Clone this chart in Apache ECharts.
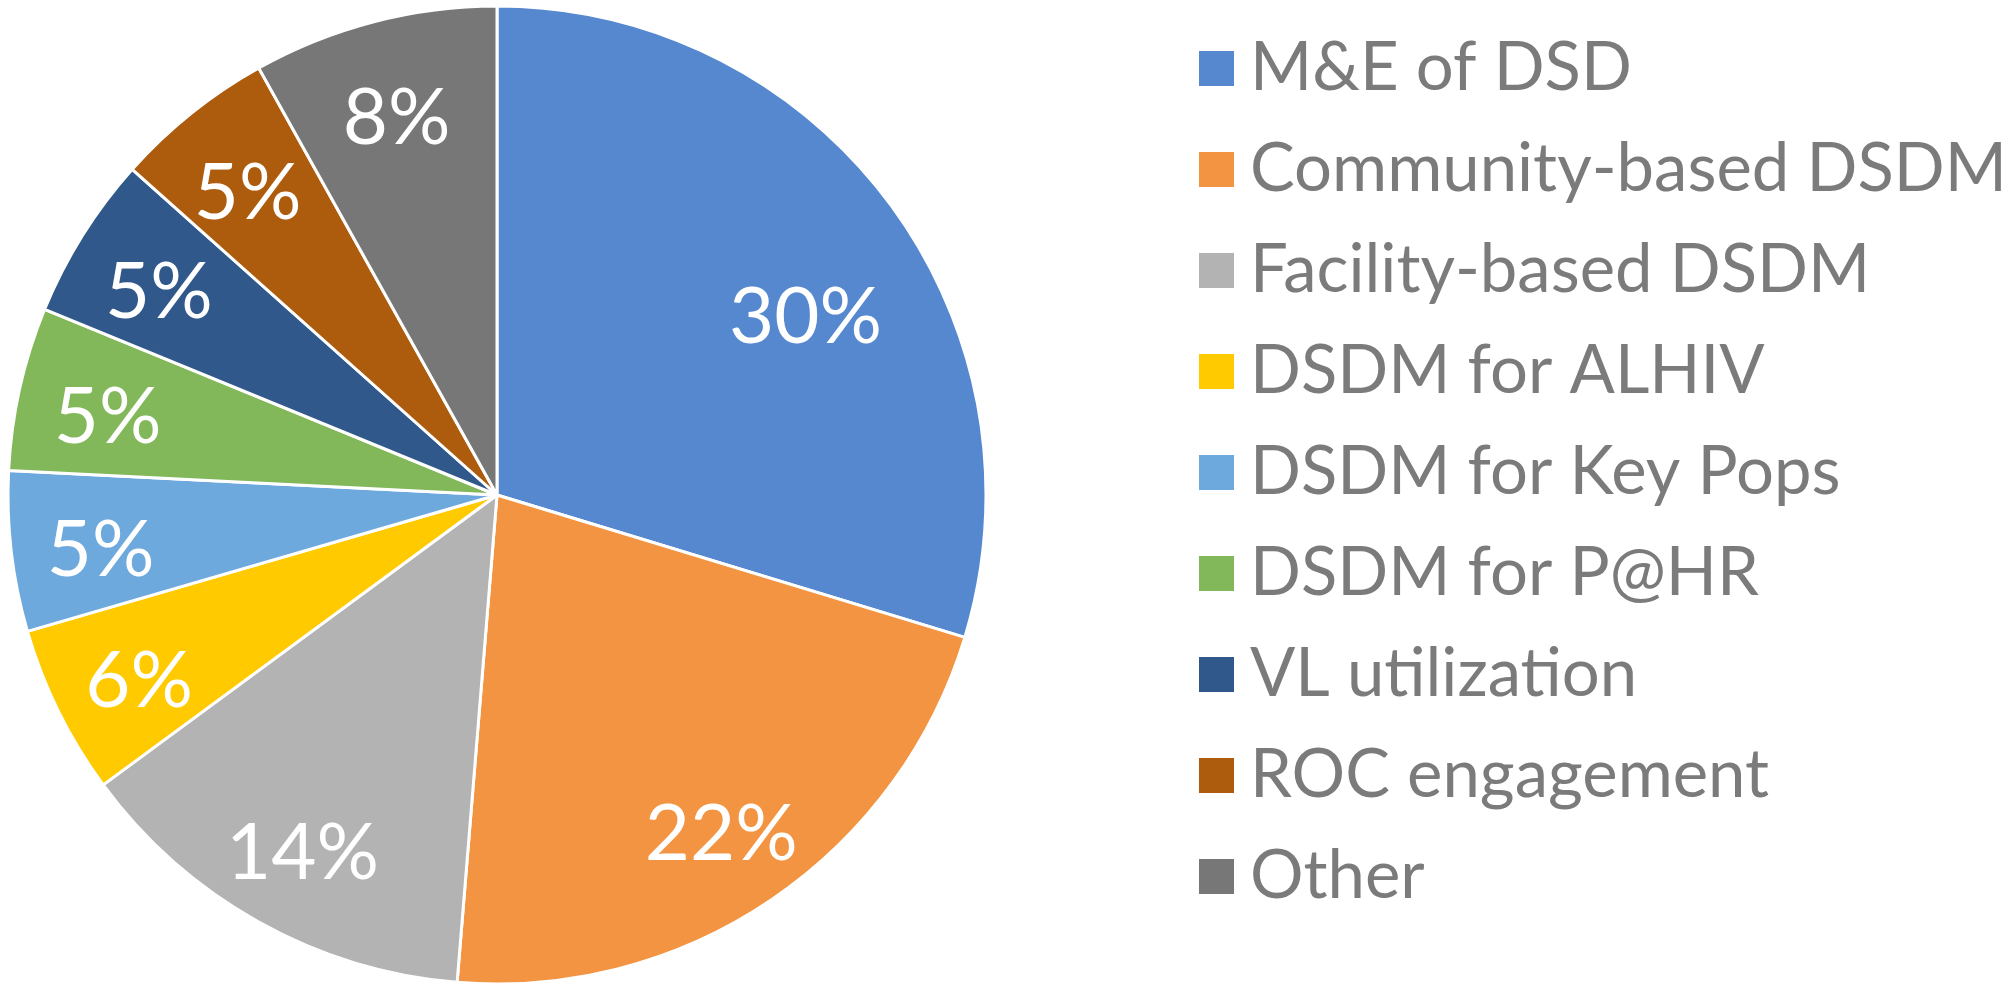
<!DOCTYPE html>
<html>
<head>
<meta charset="utf-8">
<script src="https://cdn.jsdelivr.net/npm/echarts@6/dist/echarts.min.js"></script>
<style>
    html, body { margin: 0; padding: 0; background: #fff; }
    #chart { width: 2016px; height: 984px; }
</style>
</head>
<body>
<div id="chart"></div>
<script>
// categories and their shares
const categories = [
    'M&E of DSD',
    'Community-based DSDM',
    'Facility-based DSDM',
    'DSDM for ALHIV',
    'DSDM for Key Pops',
    'DSDM for P@HR',
    'VL utilization',
    'ROC engagement',
    'Other'
];
const shares = [29.7, 21.6, 13.6, 5.6, 5.3, 5.4, 5.4, 5.3, 8.1];
const colors = ['#5588CF', '#F29441', '#B3B3B3', '#FFCA00', '#6DA9DC', '#82B75A', '#30588B', '#AD5B0C', '#777777'];

const pieData = categories.map((name, i) => ({ name: name, value: shares[i] }));
const total = shares.reduce((a, b) => a + b, 0);

// the big slice's label sits a bit closer to the centre in the original
const labelData = pieData.map((d, i) => i === 0 ? { ...d, label: { offset: [-12, 60] } } : d);

const chart = echarts.init(document.getElementById('chart'));

const option = {
    animation: false,
    color: colors,
    legend: {
        orient: 'vertical',
        left: 1192,
        top: 30,
        icon: 'rect',
        itemWidth: 37,
        itemHeight: 37,
        itemGap: 34,
        data: categories,
        textStyle: {
            fontFamily: 'Lato',
            fontSize: 67,
            color: '#7B7B7B',
            padding: [10, 0, 0, 10]
        }
    },
    series: [
        {
            // the pie itself
            type: 'pie',
            center: [497, 495],
            radius: [0, 489],
            startAngle: 90,
            clockwise: true,
            silent: true,
            label: { show: false },
            labelLine: { show: false },
            itemStyle: { borderColor: '#fff', borderWidth: 3 },
            data: pieData
        },
        {
            // transparent ring, only here to place the % labels at ~0.8 r
            type: 'pie',
            center: [497, 495],
            radius: [303, 489],
            startAngle: 90,
            clockwise: true,
            silent: true,
            itemStyle: { color: 'rgba(0,0,0,0)' },
            labelLine: { show: false },
            label: {
                show: true,
                position: 'inside',
                color: '#fff',
                fontFamily: 'Lato',
                fontSize: 78,
                offset: [0, 10],
                formatter: p => Math.round(p.value / total * 100) + '%'
            },
            data: labelData
        }
    ]
};

chart.setOption(option);
</script>
</body>
</html>
